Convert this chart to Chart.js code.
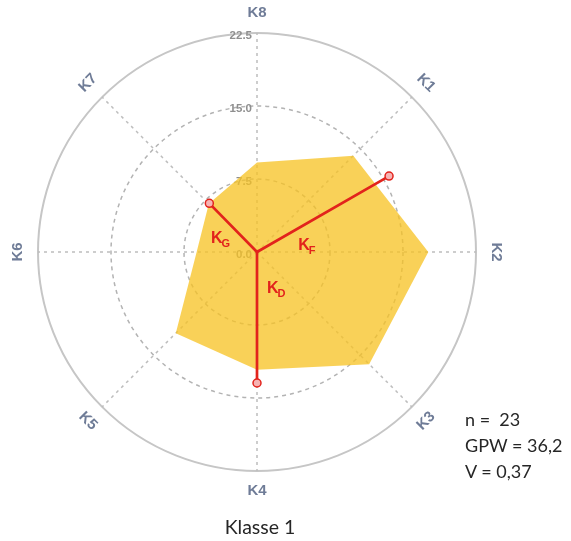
<!DOCTYPE html>
<html><head><meta charset="utf-8">
<script src="https://cdn.jsdelivr.net/npm/chart.js@4"></script>
<style>
html,body{margin:0;padding:0;background:#fff;}
#wrap{position:relative;width:571px;height:541px;overflow:hidden;}
canvas{position:absolute;left:0;top:0;}
#stats{position:absolute;left:465px;top:406px;font-family:Lato,"Open Sans",sans-serif;font-size:18px;line-height:26px;color:#262626;white-space:pre;}
#title{position:absolute;left:160px;width:200px;text-align:center;top:515px;font-family:Lato,"Open Sans",sans-serif;font-size:19.5px;color:#262626;}
</style></head>
<body>
<div id="wrap"><canvas id="c" width="571" height="541"></canvas><div id="stats"></div><div id="title"></div></div>
<script>
const categories = ['K8','K1','K2','K3','K4','K5','K6','K7'];
const values = [9.2, 14.0, 17.6, 16.3, 12.1, 11.8, 6.2, 7.0];
const tickMin = 0, tickMax = 22.5, tickStep = 7.5;
const vectorMain = ['K','K','K'];
const vectorSubs = ['F','G','D'];
const vectorDirections = [60.1, 315.6, 180]; // degrees clockwise from K8
const vectorLengths = [15.65, 7.0, 13.46];
const statNames = ['n = ', 'GPW = ', 'V = '];
const statValues = [' 23', '36,2', '0,37'];
const chartTitle = 'Klasse 1';

document.getElementById('stats').textContent = statNames.map((n,i)=>n+statValues[i]).join('\n');
document.getElementById('title').textContent = chartTitle;

const RED = '#e2231c';
const vecLabelStyle = [{t:0.38,dx:-9,dy:27},{t:0.4,dx:-27,dy:10.5},{t:0.28,dx:10,dy:4}];

const decor = {
  id:'decor',
  beforeDatasetsDraw(chart){
    const s = chart.scales.r, ctx = chart.ctx;
    ctx.save();
    ctx.font = 'bold 11.5px "Liberation Sans", Arial, sans-serif';
    ctx.fillStyle = '#8f8f8f';
    ctx.textAlign = 'right'; ctx.textBaseline = 'middle';
    s.ticks.forEach(t => {
      const y = s.yCenter - s.getDistanceFromCenterForValue(t.value);
      ctx.fillText(t.value.toFixed(1), s.xCenter - 5, y + 3);
    });
    ctx.restore();
  },
  afterDatasetsDraw(chart){
    const s = chart.scales.r, ctx = chart.ctx;
    const step = 360 / categories.length;
    ctx.save();
    vectorDirections.forEach((deg,i) => {
      const p = s.getPointPositionForValue(deg/step, vectorLengths[i]);
      ctx.strokeStyle = RED; ctx.lineWidth = 2.7; ctx.lineCap='round';
      ctx.beginPath(); ctx.moveTo(s.xCenter, s.yCenter); ctx.lineTo(p.x, p.y); ctx.stroke();
    });
    vectorDirections.forEach((deg,i) => {
      const p = s.getPointPositionForValue(deg/step, vectorLengths[i]);
      ctx.beginPath(); ctx.arc(p.x, p.y, 4, 0, Math.PI*2);
      ctx.fillStyle = '#f6b3b3'; ctx.fill();
      ctx.lineWidth = 1.5; ctx.strokeStyle = RED; ctx.stroke();
      const st = vecLabelStyle[i];
      const ax = s.xCenter + (p.x - s.xCenter)*st.t + st.dx;
      const ay = s.yCenter + (p.y - s.yCenter)*st.t + st.dy;
      ctx.fillStyle = RED; ctx.textAlign='left'; ctx.textBaseline='alphabetic';
      ctx.font = 'bold 16px "Liberation Sans", Arial, sans-serif';
      ctx.fillText(vectorMain[i], ax, ay);
      const w = ctx.measureText(vectorMain[i]).width;
      ctx.font = 'bold 11px "Liberation Sans", Arial, sans-serif';
      ctx.fillText(vectorSubs[i], ax + w - 1, ay + 4);
    });
    ctx.restore();
  },
  afterDraw(chart){
    const s = chart.scales.r, ctx = chart.ctx;
    const step = 360 / categories.length;
    ctx.save();
    ctx.font = 'bold 15px "Liberation Sans", Arial, sans-serif';
    ctx.fillStyle = '#6f7c97';
    ctx.textAlign='center'; ctx.textBaseline='middle';
    categories.forEach((lab,i) => {
      const th = i*step;
      let rot = (th <= 90 || th >= 270) ? (th > 180 ? th - 360 : th) : th - 180;
      const p = s.getPointPosition(i, s.drawingArea + 20);
      ctx.save(); ctx.translate(p.x, p.y); ctx.rotate(rot*Math.PI/180);
      ctx.fillText(lab, 0, 0); ctx.restore();
    });
    ctx.restore();
  }
};

new Chart(document.getElementById('c'), {
  type:'radar',
  data:{ labels: categories, datasets:[{ data: values, backgroundColor:'rgba(247,195,35,0.76)', borderWidth:0, pointRadius:0, fill:true }]},
  options:{
    responsive:false, animation:false,
    layout:{ padding:{ left:38, top:33, right:95, bottom:70 } },
    plugins:{ legend:{display:false}, tooltip:{enabled:false} },
    scales:{ r:{
      min:tickMin, max:tickMax,
      ticks:{ display:false, stepSize:tickStep },
      pointLabels:{ display:false },
      grid:{ circular:true, color: c => c.index===3 ? '#c6c6c6' : '#b3b3b3', lineWidth: c => c.index===3 ? 2 : 1.5 },
      border:{ dash: c => c.index===3 ? [] : [4,4] },
      angleLines:{ color:'#bdbdbd', lineWidth:1.5, borderDash:[3,4] }
    }}
  },
  plugins:[decor]
});
</script>
</body></html>
